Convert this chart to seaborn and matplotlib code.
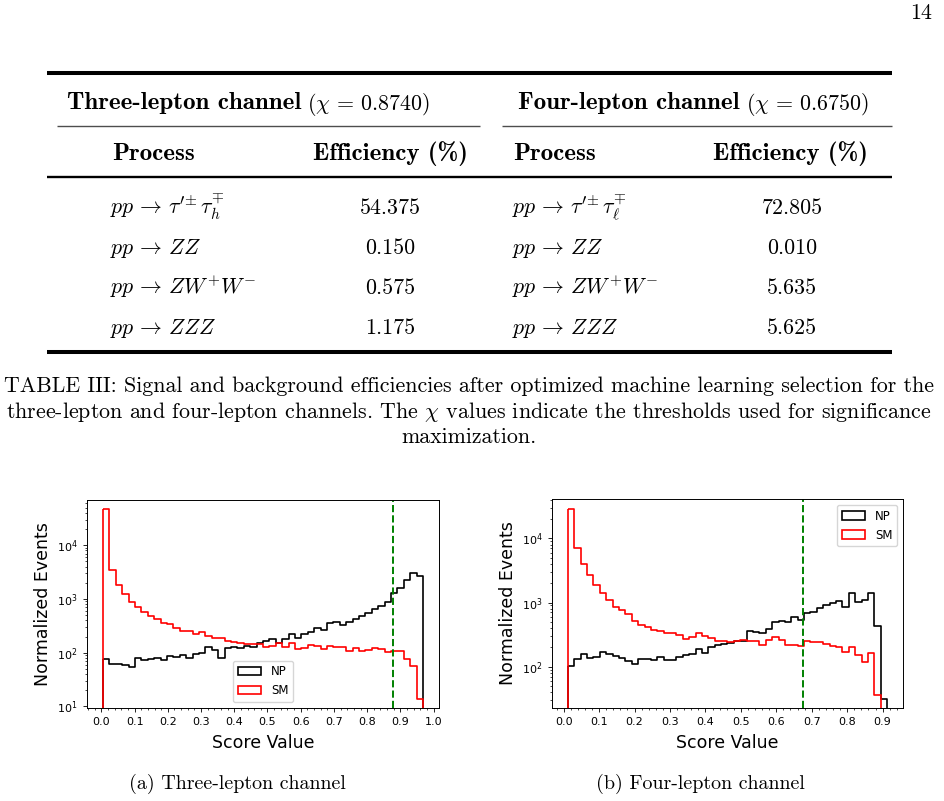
import numpy as np
import matplotlib
matplotlib.use('Agg')
import matplotlib.pyplot as plt
from matplotlib.ticker import MultipleLocator
import seaborn as sns

# ---------------- table III ----------------
chi_3l = 0.8740
chi_4l = 0.6750
proc_3l = [r'$pp \,\rightarrow\, \tau^{\prime\!\pm}\tau_h^{\mp}$', r'$pp \,\rightarrow\, ZZ$',
           r'$pp \,\rightarrow\, ZW^{+}W^{-}$', r'$pp \,\rightarrow\, ZZZ$']
eff_3l = ['54.375', '0.150', '0.575', '1.175']
proc_4l = [r'$pp \,\rightarrow\, \tau^{\prime\!\pm}\tau_\ell^{\mp}$', r'$pp \,\rightarrow\, ZZ$',
           r'$pp \,\rightarrow\, ZW^{+}W^{-}$', r'$pp \,\rightarrow\, ZZZ$']
eff_4l = ['72.805', '0.010', '5.635', '5.625']

caption = ['TABLE III: Signal and background efficiencies after optimized machine learning selection for the',
           r'three-lepton and four-lepton channels. The $\chi$ values indicate the thresholds used for significance',
           'maximization.']
subcaps = ['(a) Three-lepton channel', '(b) Four-lepton channel']

# ---------------- histograms (50 bins, counts) ----------------
range_3l = (0.005, 0.968)
np_3l = [76, 61, 61, 59, 54, 80, 72, 76, 78, 72, 85, 83, 92, 80, 93, 97, 127, 112, 78, 124,
         127, 120, 131, 127, 151, 162, 181, 153, 181, 219, 184, 225, 238, 286, 267, 364, 380, 321, 375, 420,
         477, 558, 653, 753, 868, 1300, 1600, 2250, 3075, 2700]
sm_3l = [46400, 3390, 1790, 1230, 880, 711, 567, 491, 420, 354, 344, 290, 255, 252, 225, 241, 206, 187, 184, 164,
         158, 153, 147, 147, 145, 127, 133, 151, 126, 151, 119, 120, 139, 133, 119, 133, 127, 127, 107, 124,
         107, 112, 124, 117, 104, 107, 107, 75, 57, 14]

range_4l = (0.012, 0.9125)
np_4l = [101, 133, 157, 136, 141, 171, 159, 146, 136, 125, 110, 133, 130, 127, 143, 128, 128, 140, 154, 157,
         190, 163, 205, 220, 225, 233, 250, 255, 355, 345, 340, 385, 490, 510, 495, 590, 538, 683, 724, 836,
         908, 1000, 1040, 839, 1400, 1037, 1087, 1413, 433, 32]
sm_4l = [29200, 7170, 3950, 2700, 1905, 1396, 1100, 867, 769, 675, 519, 444, 409, 376, 363, 330, 330, 307, 269, 292,
         330, 300, 279, 251, 251, 239, 253, 260, 253, 253, 220, 260, 292, 260, 222, 217, 209, 253, 245, 245,
         225, 209, 200, 167, 200, 152, 117, 163, 36, 0]

cut_3l = 0.879   # where the dashed line sits in the figure
cut_4l = 0.676

sns.set_style('ticks', rc={'axes.edgecolor': 'black', 'xtick.color': 'black', 'ytick.color': 'black',
                           'text.color': 'black', 'axes.labelcolor': 'black'})
plt.rcParams['font.family'] = ['DejaVu Sans']

fig = plt.figure(figsize=(9.45, 8.01), dpi=100)

# page layer in pixel units
page = fig.add_axes([0, 0, 1, 1])
page.set_xlim(0, 945)
page.set_ylim(801, 0)
page.axis('off')

FS = 15.8    # roman text
BFS = 18.0   # bold (cmb10 is narrower than the bold extended face)


def tex(x, y, s, bold=False, size=None, **kw):
    if size is None:
        size = BFS if bold else FS
    return page.text(x, y, s, fontsize=size, family='cmb10' if bold else 'cmr10',
                     math_fontfamily='cm', va='baseline', **kw)


tex(932, 19, '14', ha='right')

# rules
page.plot([47, 892], [73, 73], color='black', lw=2.9, solid_capstyle='butt')
page.plot([57, 480], [126, 126], color='0.3', lw=1.0, solid_capstyle='butt')
page.plot([502, 892], [126, 126], color='0.3', lw=1.0, solid_capstyle='butt')
page.plot([47, 892], [177, 177], color='black', lw=1.7, solid_capstyle='butt')
page.plot([47, 892], [352, 352], color='black', lw=2.9, solid_capstyle='butt')

# group headers: bold name + regular (chi = ...)
fig.canvas.draw()
rend = fig.canvas.get_renderer()
for x0, name, chi in [(67, 'Three-lepton channel', chi_3l), (518, 'Four-lepton channel', chi_4l)]:
    t = tex(x0, 109.5, name, bold=True)
    bb = t.get_window_extent(rend)
    x1 = page.transData.inverted().transform((bb.x1, bb.y0))[0]
    tex(x1 + 6, 109.5, r'($\chi \,=\, %.4f$)' % chi)

# column headers
for xp, xe in [(112, 390), (513, 790)]:
    tex(xp, 160.5, 'Process', bold=True)
    tex(xe, 160.5, 'Efficiency (%)', bold=True, ha='center')

row_y = [214.5, 253.5, 294, 334.5]
for i, y in enumerate(row_y):
    tex(110, y, proc_3l[i])
    tex(390, y, eff_3l[i], ha='center')
    tex(512, y, proc_4l[i])
    tex(792, y, eff_4l[i], ha='center')

for y, line in zip([392, 418, 443], caption):
    tex(469, y, line, ha='center')

tex(237, 789, subcaps[0], ha='center', size=14.4)
tex(700, 789, subcaps[1], ha='center', size=14.4)


# ---------------- the two panels ----------------
def panel(rect, rng, np_counts, sm_counts, cut, loc, xmax):
    ax = fig.add_axes(rect)
    ax.set_yscale('log')
    edges = np.linspace(rng[0], rng[1], len(np_counts) + 1).tolist()
    centers = [0.5 * (a + b) for a, b in zip(edges[:-1], edges[1:])]
    sns.histplot(x=centers, weights=np_counts, bins=edges, element='step', fill=True,
                 color='black', facecolor='none', linewidth=1.2, label='NP', ax=ax)
    sns.histplot(x=centers, weights=sm_counts, bins=edges, element='step', fill=True,
                 color='red', facecolor='none', linewidth=1.2, label='SM', ax=ax)
    ax.axvline(cut, color='green', ls='--', lw=1.4)

    pad = 0.05 * (rng[1] - rng[0])
    ax.set_xlim(rng[0] - pad, rng[1] + pad)
    vals = np.array(np_counts + sm_counts, dtype=float)
    vals = vals[vals > 0]
    lo, hi = np.log10(vals.min()), np.log10(vals.max())
    lpad = 0.05 * (hi - lo)
    ax.set_ylim(10 ** (lo - lpad), 10 ** (hi + lpad))

    ax.set_xticks(np.round(np.arange(0, xmax + 0.001, 0.1), 1))
    ax.xaxis.set_minor_locator(MultipleLocator(0.02))
    ax.tick_params(which='major', labelsize=8, length=3.2, width=0.6)
    ax.tick_params(which='minor', length=1.7, width=0.5)
    for s in ax.spines.values():
        s.set_linewidth(0.7)
    ax.set_xlabel('Score Value', fontsize=12.5, labelpad=4.5)
    ax.set_ylabel('Normalized Events', fontsize=12.5, labelpad=3.5)
    ax.legend(loc=loc, fontsize=8.5)
    return ax


panel([87 / 945, 93 / 801, 352 / 945, 208 / 801], range_3l, np_3l, sm_3l, cut_3l, 'lower center', 1.0)
panel([552 / 945, 93 / 801, 351 / 945, 209 / 801], range_4l, np_4l, sm_4l, cut_4l, 'upper right', 0.9)

fig.savefig('out.png', dpi=100)
